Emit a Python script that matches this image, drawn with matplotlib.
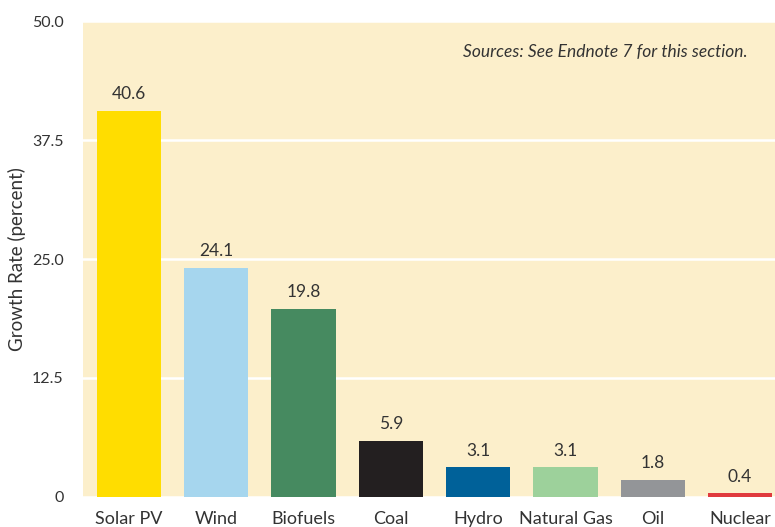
import matplotlib.pyplot as plt
import numpy as np

# dados do gráfico
fontes = ['Solar PV', 'Wind', 'Biofuels', 'Coal', 'Hydro', 'Natural Gas', 'Oil', 'Nuclear']
crescimento = [40.6, 24.1, 19.8, 5.9, 3.1, 3.1, 1.8, 0.4]
rotulos = ['40.6', '24.1', '19.8', '5.9', '3.1', '3.1', '1.8', '0.4']
cores = ['#FFDD00', '#A6D6EE', '#468A60', '#231F20', '#006199', '#9DD19B', '#939598', '#E03A3E']
yticks = [0, 12.5, 25, 37.5, 50]
ytick_labels = ['0', '12.5', '25.0', '37.5', '50.0']

plt.rcParams['font.family'] = ['Lato', 'DejaVu Sans']
texto = '#333333'

fig = plt.figure(figsize=(7.75, 5.27), dpi=100)
ax = fig.add_axes([0.107, 0.057, 0.893, 0.903])
ax.set_facecolor('#FCEFCB')

x = np.arange(len(fontes))
ax.bar(x, crescimento, width=0.735, color=cores, zorder=3)
for xi, v, r in zip(x, crescimento, rotulos):
    ax.text(xi, v + 0.9, r, ha='center', va='bottom', fontsize=12.5, color=texto, zorder=4)

ax.set_xlim(-0.527, 7.40)
ax.set_ylim(0, 50)
ax.set_yticks(yticks)
ax.set_yticklabels(ytick_labels, fontsize=11.5, color=texto)
ax.set_xticks(x)
ax.set_xticklabels(fontes, fontsize=13, color=texto)
ax.tick_params(axis='both', length=0)
ax.tick_params(axis='y', pad=14)
ax.tick_params(axis='x', pad=10)
ax.grid(axis='y', color='white', linewidth=1.8, zorder=1)
for s in ax.spines.values():
    s.set_visible(False)

ax.set_ylabel('Growth Rate (percent)', fontsize=13.5, color=texto, labelpad=4)
ax.text(0.96, 0.935, 'Sources: See Endnote 7 for this section.', transform=ax.transAxes,
        ha='right', va='center', fontsize=12.5, style='italic', color=texto)

fig.savefig('out.png', dpi=100)
